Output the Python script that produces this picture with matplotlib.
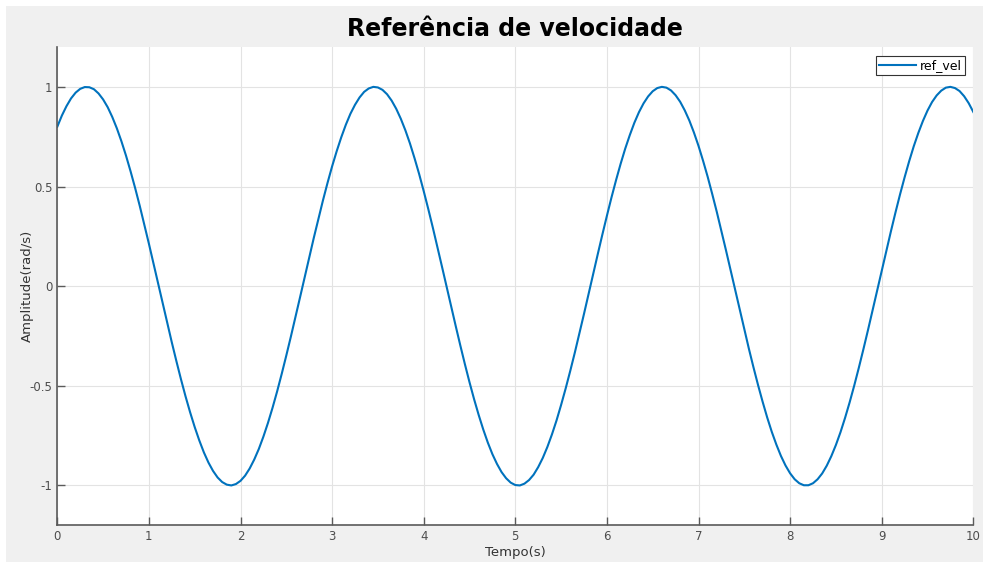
#!/bin/python

import numpy as np
import matplotlib.pyplot as plt
from matplotlib.patches import Rectangle

# Time grid (s), sampled every 0.05 s
time = np.linspace(0, 10, 201)

# Speed reference (rad/s), one row per second
ref_vel = [
	0.800, 0.856, 0.903, 0.942, 0.971, 0.990, 0.999, 0.998, 0.988, 0.967,
	0.937, 0.898, 0.849, 0.792, 0.727, 0.655, 0.576, 0.492, 0.403, 0.309,
	0.213, 0.114, 0.014, -0.086, -0.185, -0.282, -0.376, -0.467, -0.553, -0.633,
	-0.707, -0.774, -0.834, -0.885, -0.927, -0.960, -0.983, -0.996, -1.000, -0.993,
	-0.977, -0.951, -0.915, -0.870, -0.817, -0.755, -0.686, -0.610, -0.528, -0.440,
	-0.348, -0.253, -0.155, -0.056, 0.044, 0.144, 0.242, 0.337, 0.430, 0.518,
	0.601, 0.677, 0.747, 0.810, 0.865, 0.910, 0.947, 0.975, 0.992, 1.000,
	0.997, 0.985, 0.963, 0.931, 0.890, 0.840, 0.782, 0.716, 0.642, 0.563,
	0.477, 0.387, 0.293, 0.196, 0.097, -0.003, -0.102, -0.201, -0.298, -0.392,
	-0.482, -0.567, -0.646, -0.719, -0.785, -0.843, -0.892, -0.933, -0.964, -0.986,
	-0.998, -1.000, -0.991, -0.973, -0.946, -0.908, -0.862, -0.807, -0.744, -0.674,
	-0.596, -0.513, -0.425, -0.333, -0.237, -0.139, -0.039, 0.061, 0.160, 0.258,
	0.353, 0.445, 0.532, 0.614, 0.690, 0.758, 0.820, 0.873, 0.917, 0.952,
	0.978, 0.994, 1.000, 0.996, 0.982, 0.958, 0.925, 0.882, 0.831, 0.771,
	0.704, 0.629, 0.549, 0.462, 0.372, 0.277, 0.180, 0.081, -0.019, -0.119,
	-0.218, -0.314, -0.407, -0.496, -0.580, -0.659, -0.731, -0.795, -0.852, -0.900,
	-0.939, -0.969, -0.989, -0.999, -0.999, -0.989, -0.969, -0.940, -0.901, -0.853,
	-0.797, -0.733, -0.661, -0.583, -0.499, -0.410, -0.317, -0.221, -0.122, -0.022,
	0.078, 0.177, 0.274, 0.369, 0.460, 0.546, 0.627, 0.702, 0.769, 0.829,
	0.881, 0.924, 0.957, 0.981, 0.996, 1.000, 0.994, 0.979, 0.953, 0.918,
	0.874,
]

x_ticks = [0, 1, 2, 3, 4, 5, 6, 7, 8, 9, 10]
y_ticks = [-1, -0.5, 0, 0.5, 1]
y_tick_labels = ['-1', '-0.5', '0', '0.5', '1']

plt.rcParams['font.family'] = 'DejaVu Sans'

fig = plt.figure(figsize=(9.83, 5.64), dpi=100, facecolor='white')
# MATLAB style grey figure background
fig.patches.append(Rectangle((6/983, 2/564), 1, 556/564, transform=fig.transFigure,
	facecolor='#f0f0f0', edgecolor='none', zorder=-10))

ax = fig.add_axes([57.3/983, 38.7/564, 916/983, 478.3/564])
ax.set_facecolor('white')

ax.plot(time, ref_vel, color='#0072BD', linewidth=1.5, label='ref_vel',
	solid_joinstyle='round')

ax.set_xlim(0, 10)
ax.set_ylim(-1.2, 1.2)
ax.set_xticks(x_ticks)
ax.set_yticks(y_ticks)
ax.set_yticklabels(y_tick_labels)

# Light grid and only left/bottom axis lines
ax.grid(True, color='#e3e3e3', linewidth=0.8)
ax.set_axisbelow(True)
for side in ['top', 'right']:
	ax.spines[side].set_visible(False)
for side in ['left', 'bottom']:
	ax.spines[side].set_color('#5a5a5a')
	ax.spines[side].set_linewidth(1.2)
ax.tick_params(direction='in', length=5.8, width=1.0, color='#5a5a5a',
	labelcolor='#4d4d4d', labelsize=8.5, pad=3.5)

ax.set_xlabel('Tempo(s)', fontsize=9.5, color='#333333')
ax.set_ylabel('Amplitude(rad/s)', fontsize=9.5, color='#333333')
ax.xaxis.set_label_coords(0.5, -0.043)
ax.yaxis.set_label_coords(-0.0254, 0.5)

fig.text(515/983, 1 - 36/564, 'Referência de velocidade', fontsize=17,
	fontweight='bold', ha='center', va='baseline', color='black')

leg = ax.legend(loc='upper right', fontsize=9, fancybox=False, framealpha=1,
	edgecolor='#333333', borderpad=0.25, handlelength=2.9, handletextpad=0.3,
	borderaxespad=0.7)
leg.get_frame().set_linewidth(0.8)

plt.savefig('out.png', dpi=100, facecolor=fig.get_facecolor())
